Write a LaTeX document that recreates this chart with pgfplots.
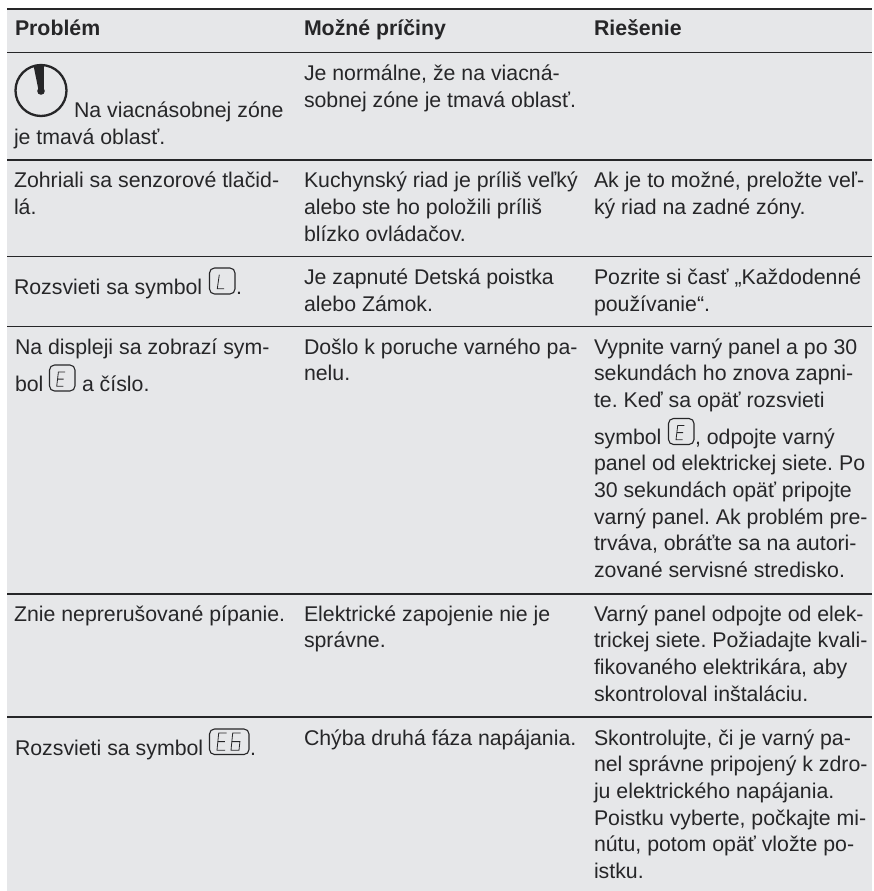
\documentclass[border=0pt]{standalone}
\usepackage{pgfplots}
\pgfplotsset{compat=1.18}
\usepackage{fontspec}
\setmainfont{Liberation Sans}
\frenchspacing
\definecolor{bg}{HTML}{E6E7E9}
\definecolor{ink}{HTML}{262628}
\newcommand{\T}[3]{\node[anchor=base west,inner sep=0pt,outer sep=0pt,text=ink,font=\fontsize{21.3}{24}\selectfont] at (axis cs:#1,#2) {#3};}
\newcommand{\B}[3]{\node[anchor=base west,inner sep=0pt,outer sep=0pt,text=ink,font=\fontsize{21.3}{24}\selectfont\bfseries] at (axis cs:#1,#2) {#3};}
% key box: x,y,w,h
\newcommand{\keybox}[4]{\draw[shift={(axis cs:#1,#2)},x=1pt,y=-1pt,ink,line width=1.1pt,rounded corners=5pt] (0,0) rectangle (#3,#4);}
\newcommand{\segE}[2]{\draw[shift={(axis cs:#1,#2)},x=1pt,y=-1pt,ink,line width=0.8pt] (8.3,0) -- (1.7,0) -- (0,14.3) -- (6.6,14.3) (0.9,7.1) -- (7,7.1);}
\begin{document}
\begin{tikzpicture}
\begin{axis}[scale only axis,width=872pt,height=891pt,xmin=0,xmax=872,ymin=0,ymax=891,y dir=reverse,hide axis,clip=false]
\path (axis cs:0,0) rectangle (axis cs:872,891);
% background
\addplot[draw=none,fill=bg] coordinates {(7,9) (872,9) (872,891) (7,891)} -- cycle;
% rules
\addplot[ink,line width=2.4pt,forget plot] coordinates {(7,8.8) (872,8.8)};
\addplot[ink,line width=1.1pt,forget plot] coordinates {(7,52.5) (872,52.5)};
\addplot[ink,line width=1.8pt,forget plot] coordinates {(7,159.7) (872,159.7)};
\addplot[ink,line width=1.1pt,forget plot] coordinates {(7,256.5) (872,256.5)};
\addplot[ink,line width=1.1pt,forget plot] coordinates {(7,326.5) (872,326.5)};
\addplot[ink,line width=1.1pt,forget plot] coordinates {(7,594) (872,594)};
\addplot[ink,line width=1.1pt,forget plot] coordinates {(7,717) (872,717)};
% header
\B{15}{36}{Problém}
\B{304}{36}{Možné príčiny}
\B{594}{36}{Riešenie}
% col 1
\T{74}{117}{Na viacnásobnej zóne}
\T{14}{144}{je tmavá oblasť.}
\T{14}{187}{Zohriali sa senzorové tlačid-}
\T{14}{214}{lá.}
\T{14}{294}{Rozsvieti sa symbol}
\T{236}{294}{.}
\T{15}{354}{Na displeji sa zobrazí sym-}
\T{15}{391}{bol}
\T{82}{391}{a číslo.}
\T{14}{621}{Znie neprerušované pípanie.}
\T{15}{755}{Rozsvieti sa symbol}
\T{250}{755}{.}
% col 2
\T{304}{80.5}{Je normálne, že na viacná-}
\T{304}{107}{sobnej zóne je tmavá oblasť.}
\T{304}{187}{Kuchynský riad je príliš veľký}
\T{304}{214}{alebo ste ho položili príliš}
\T{304}{241}{blízko ovládačov.}
\T{304}{284}{Je zapnuté Detská poistka}
\T{304}{311}{alebo Zámok.}
\T{304}{354}{Došlo k poruche varného pa-}
\T{304}{380.7}{nelu.}
\T{304}{621}{Elektrické zapojenie nie je}
\T{304}{647.7}{správne.}
\T{304}{745}{Chýba druhá fáza napájania.}
% col 3
\T{594}{187}{Ak je to možné, preložte veľ-}
\T{594}{214}{ký riad na zadné zóny.}
\T{594}{284}{Pozrite si časť „Každodenné}
\T{594}{311}{používanie“.}
\T{594}{354}{Vypnite varný panel a po 30}
\T{594}{380.7}{sekundách ho znova zapni-}
\T{594}{407.4}{te. Keď sa opäť rozsvieti}
\T{594}{444}{symbol}
\T{695}{444}{, odpojte varný}
\T{594}{470.7}{panel od elektrickej siete. Po}
\T{594}{497.4}{30 sekundách opäť pripojte}
\T{594}{524.1}{varný panel. Ak problém pre-}
\T{594}{550.8}{trváva, obráťte sa na autori-}
\T{594}{577.5}{zované servisné stredisko.}
\T{594}{621}{Varný panel odpojte od elek-}
\T{594}{647.7}{trickej siete. Požiadajte kvali-}
\T{594}{674.4}{fikovaného elektrikára, aby}
\T{594}{701.1}{skontroloval inštaláciu.}
\T{594}{745}{Skontrolujte, či je varný pa-}
\T{594}{771.7}{nel správne pripojený k zdro-}
\T{594}{798.4}{ju elektrického napájania.}
\T{594}{825.1}{Poistku vyberte, počkajte mi-}
\T{594}{851.8}{nútu, potom opäť vložte po-}
\T{594}{878.5}{istku.}
% icon
\draw[ink,line width=2.3pt] (axis cs:41,90.5) circle[radius=25.5pt];
\fill[ink] (axis cs:33.5,65.5) -- (axis cs:44,64) -- (axis cs:43.8,90) -- (axis cs:38.5,90) -- cycle;
\fill[ink] (axis cs:41,91) circle[radius=3.8pt];
% keys
\keybox{209.5}{268}{25.5}{26}
\draw[shift={(axis cs:217.3,274.7)},x=1pt,y=-1pt,ink,line width=0.8pt] (2,0) -- (0,14) -- (6.7,14);
\keybox{49.5}{365}{25.5}{26}
\segE{56.7}{372}
\keybox{668.5}{418.5}{25.5}{26}
\segE{676}{425.5}
\keybox{209.5}{729}{39.5}{25.5}
\draw[shift={(axis cs:217,733)},x=1pt,y=-1pt,ink,line width=0.8pt] (9.7,0) -- (1.7,0) -- (0,17.2) -- (8,17.2) (0.9,8.6) -- (7.8,8.6);
\draw[shift={(axis cs:231,733)},x=1pt,y=-1pt,ink,line width=0.8pt] (9.7,0) -- (1.7,0) -- (0,17.2) -- (8,17.2) -- (8.9,8.6) -- (0.9,8.6);
\end{axis}
\end{tikzpicture}
\end{document}
